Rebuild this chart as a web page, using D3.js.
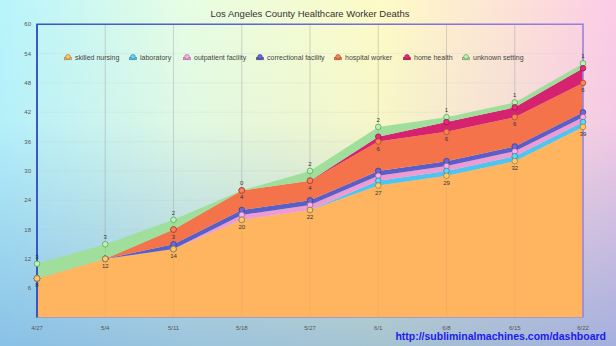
<!doctype html>
<html>
<head>
<script src="https://d3js.org/d3.v7.min.js"></script>
<style>
  body { margin: 0; }
  svg text { font-family: "Liberation Sans", Arial, sans-serif; }
</style>
</head>
<body>
<script>
var dates = ["4/27", "5/4", "5/11", "5/18", "5/27", "6/1", "6/8", "6/15", "6/22"];
var seriesNames = ["skilled nursing", "laboratory", "outpatient facility", "correctional facility",
                   "hospital worker", "home health", "unknown setting"];
var seriesColors = ["#ffb55f", "#4fc4ee", "#ef9bd3", "#5b5ec7", "#f5734b", "#d5236f", "#9fdf9b"];

var skilledNursing = [8, 12, 14, 20, 22, 27, 29, 32, 39];
var laboratory     = [0, 0, 0, 0, 0, 1, 1, 1, 1];
var outpatient     = [0, 0, 0, 1, 1, 1, 1, 1, 1];
var correctional   = [0, 0, 1, 1, 1, 1, 1, 1, 1];
var hospitalWorker = [0, 0, 3, 4, 4, 6, 6, 6, 6];
var homeHealth     = [0, 0, 0, 0, 0, 1, 2, 2, 3];
var unknownSetting = [3, 3, 2, 0, 2, 2, 1, 1, 1];
var yTicks = [6, 12, 18, 24, 30, 36, 42, 48, 54, 60];

var allValues = [skilledNursing, laboratory, outpatient, correctional, hospitalWorker, homeHealth, unknownSetting];
// which series show value labels, and where
var labelPos = {"skilled nursing": "below", "hospital worker": "below", "unknown setting": "above"};

var width = 616, height = 346;

var rows = dates.map(function (d, i) {
    var r = {date: d};
    seriesNames.forEach(function (s, k) { r[s] = allValues[k][i]; });
    return r;
});

var svg = d3.select("body").append("svg")
    .attr("width", width)
    .attr("height", height);

var defs = svg.append("defs");
var bg = defs.append("linearGradient").attr("id", "bgH").attr("x1", 0).attr("x2", 1).attr("y1", 0).attr("y2", 0);
bg.append("stop").attr("offset", "0%").attr("stop-color", "#b8f4fc");
bg.append("stop").attr("offset", "30%").attr("stop-color", "#e6fde4");
bg.append("stop").attr("offset", "62%").attr("stop-color", "#fefbc6");
bg.append("stop").attr("offset", "82%").attr("stop-color", "#fde3d6");
bg.append("stop").attr("offset", "100%").attr("stop-color", "#fccbe6");
var bgV = defs.append("linearGradient").attr("id", "bgV").attr("x1", 0).attr("x2", 0).attr("y1", 0).attr("y2", 1);
bgV.append("stop").attr("offset", "0%").attr("stop-color", "#6a9ed8").attr("stop-opacity", 0);
bgV.append("stop").attr("offset", "35%").attr("stop-color", "#6a9ed8").attr("stop-opacity", 0.05);
bgV.append("stop").attr("offset", "100%").attr("stop-color", "#6a9ed8").attr("stop-opacity", 0.6);
var border = defs.append("linearGradient").attr("id", "border").attr("x1", 0).attr("x2", 1).attr("y1", 0).attr("y2", 0);
border.append("stop").attr("offset", "0%").attr("stop-color", "#3a55c4");
border.append("stop").attr("offset", "100%").attr("stop-color", "#9a80e0");

svg.append("rect").attr("width", width).attr("height", height).attr("fill", "url(#bgH)");
svg.append("rect").attr("width", width).attr("height", height).attr("fill", "url(#bgV)");

var x = d3.scalePoint().domain(dates).range([37, 583]);
var y = d3.scaleLinear().domain([0, 60]).range([317.5, 24.3]);

// horizontal grid
svg.append("g").selectAll("line").data(yTicks).enter().append("line")
    .attr("x1", 37).attr("x2", 583)
    .attr("y1", function (d) { return y(d); }).attr("y2", function (d) { return y(d); })
    .attr("stroke", "#c8c8c8").attr("stroke-opacity", 0.3).attr("stroke-width", 0.8);

// vertical grid
svg.append("g").selectAll("line").data(dates).enter().append("line")
    .attr("x1", function (d) { return x(d); }).attr("x2", function (d) { return x(d); })
    .attr("y1", y(60)).attr("y2", y(0))
    .attr("stroke", "#aaa").attr("stroke-opacity", 0.5).attr("stroke-width", 0.7);

var stack = d3.stack().keys(seriesNames);
var layers = stack(rows);

var area = d3.area()
    .x(function (d) { return x(d.data.date); })
    .y0(function (d) { return y(d[0]); })
    .y1(function (d) { return y(d[1]); });

svg.append("g").selectAll("path").data(layers).enter().append("path")
    .attr("d", area)
    .attr("fill", function (d, i) { return seriesColors[i]; });

// vertical grid over areas (faint)
svg.append("g").selectAll("line").data(dates).enter().append("line")
    .attr("x1", function (d) { return x(d); }).attr("x2", function (d) { return x(d); })
    .attr("y1", y(60)).attr("y2", y(0))
    .attr("stroke", "#888").attr("stroke-opacity", 0.18).attr("stroke-width", 0.6);

// plot border
svg.append("path")
    .attr("d", "M" + x(dates[0]) + "," + y(0) + "V" + y(60) + "H" + x(dates[8]) + "V" + y(0))
    .attr("fill", "none").attr("stroke", "url(#border)").attr("stroke-width", 1.5);
svg.append("line")
    .attr("x1", x(dates[0])).attr("x2", x(dates[8])).attr("y1", y(0)).attr("y2", y(0))
    .attr("stroke", "#a99bc8").attr("stroke-width", 1);
svg.append("line")
    .attr("x1", x(dates[0])).attr("x2", x(dates[0])).attr("y1", y(60)).attr("y2", y(0))
    .attr("stroke", "#2f4fc0").attr("stroke-width", 1.5);

// markers, top series first so lower series sit on top where they coincide
layers.slice().reverse().forEach(function (layer) {
    var c = seriesColors[layer.index];
    svg.append("g").selectAll("circle").data(layer).enter().append("circle")
        .attr("cx", function (d) { return x(d.data.date); })
        .attr("cy", function (d) { return y(d[1]); })
        .attr("r", 2.8)
        .attr("fill", d3.color(c).brighter(0.3))
        .attr("stroke", d3.color(c).darker(1.3))
        .attr("stroke-width", 0.7);
});

// value labels
layers.forEach(function (layer, i) {
    var pos = labelPos[layer.key];
    if (!pos) return;
    svg.append("g").selectAll("text").data(layer.filter(function (d) {
            return !(layer.key == "hospital worker" && d.data[layer.key] == 0);
        })).enter().append("text")
        .attr("x", function (d) { return x(d.data.date); })
        .attr("y", function (d) { return y(d[1]) + (pos == "above" ? -5 : 9); })
        .attr("text-anchor", "middle")
        .attr("font-size", "6px")
        .attr("fill", "#333")
        .text(function (d) { return d.data[layer.key]; });
});

// y axis labels
svg.append("g").selectAll("text").data(yTicks).enter().append("text")
    .attr("x", 31).attr("y", function (d) { return y(d); })
    .attr("dy", "0.35em")
    .attr("text-anchor", "end")
    .attr("font-size", "6px")
    .attr("fill", "#555")
    .text(function (d) { return d; });

// x axis labels
svg.append("g").selectAll("text").data(dates).enter().append("text")
    .attr("x", function (d) { return x(d); }).attr("y", 328)
    .attr("dy", "0.35em")
    .attr("text-anchor", "middle")
    .attr("font-size", "6px")
    .attr("fill", "#555")
    .text(function (d) { return d; });

// title
svg.append("text")
    .attr("x", 310).attr("y", 14).attr("dy", "0.35em")
    .attr("text-anchor", "middle")
    .attr("font-size", "9.5px")
    .attr("fill", "#333")
    .text("Los Angeles County Healthcare Worker Deaths");

// legend
var legendX = [68, 133, 187, 260, 338, 407, 466];
var lg = svg.append("g").selectAll("g").data(seriesNames).enter().append("g")
    .attr("transform", function (d, i) { return "translate(" + legendX[i] + ",57.3)"; });
lg.append("rect")
    .attr("x", -3.5).attr("y", 0).attr("width", 7).attr("height", 2.5)
    .attr("fill", function (d, i) { return seriesColors[i]; })
    .attr("stroke", function (d, i) { return d3.color(seriesColors[i]).darker(1.3); })
    .attr("stroke-width", 0.5);
lg.append("circle")
    .attr("r", 2.3).attr("cy", -0.5)
    .attr("fill", function (d, i) { return d3.color(seriesColors[i]).brighter(0.3); })
    .attr("stroke", function (d, i) { return d3.color(seriesColors[i]).darker(1.3); })
    .attr("stroke-width", 0.6);
lg.append("text")
    .attr("x", 7).attr("dy", "0.35em")
    .attr("font-size", "7px")
    .attr("fill", "#444")
    .text(function (d) { return d; });

// watermark
svg.append("text")
    .attr("x", 606).attr("y", 336).attr("dy", "0.35em")
    .attr("text-anchor", "end")
    .attr("font-size", "10.5px")
    .attr("font-weight", "bold")
    .attr("fill", "#1b1bf0")
    .text("http://subliminalmachines.com/dashboard");
</script>
</body>
</html>
